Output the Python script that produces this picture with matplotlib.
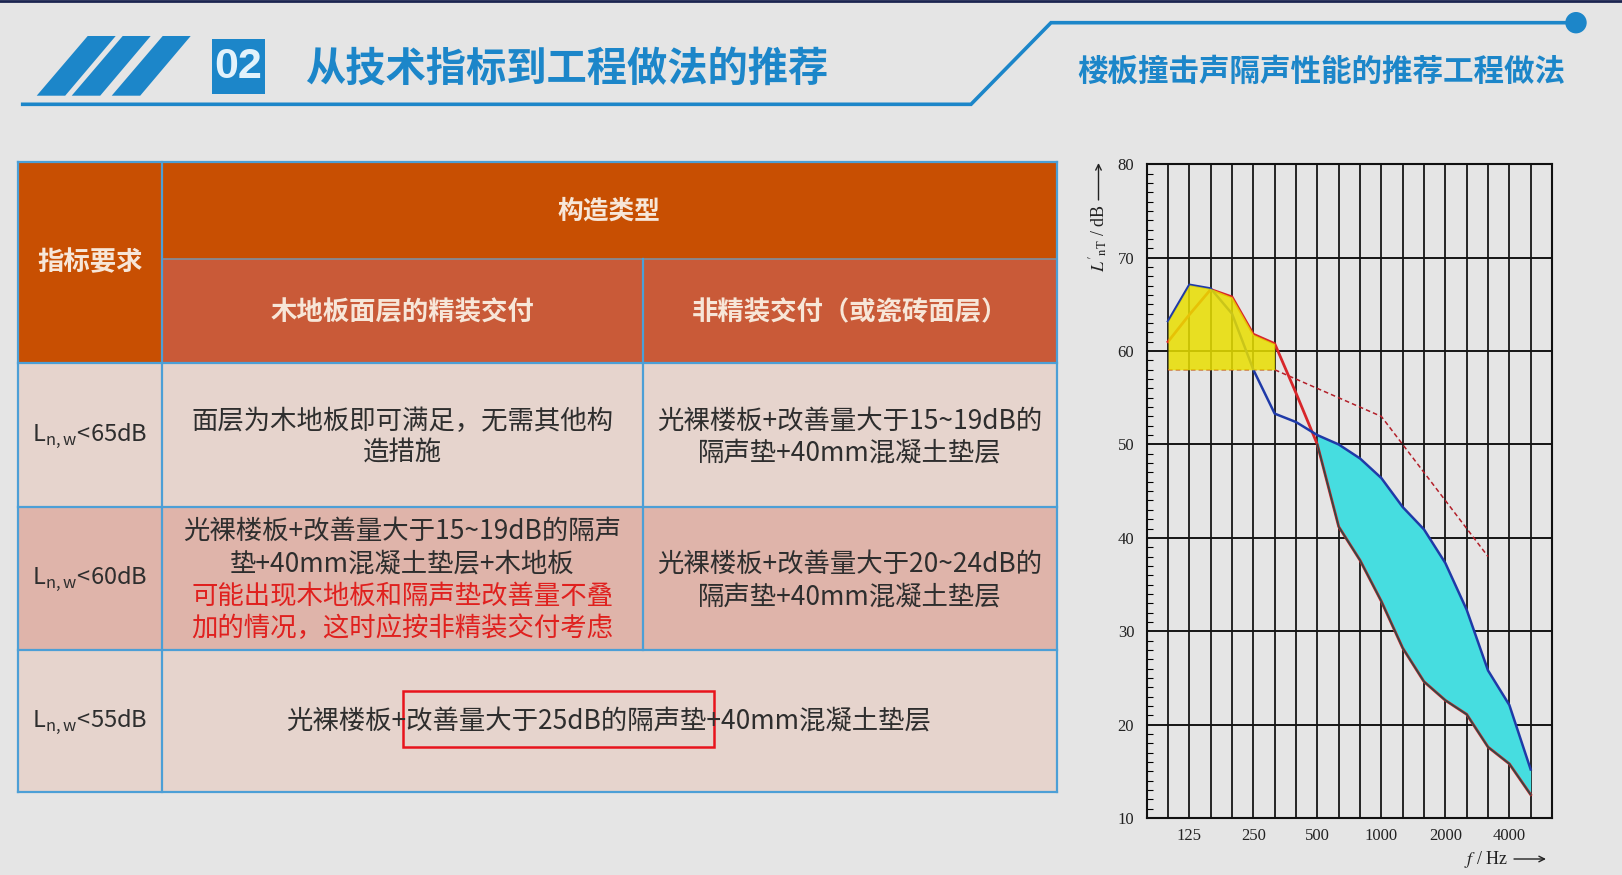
import numpy as np
import matplotlib
matplotlib.use('Agg')
import matplotlib.pyplot as plt
from matplotlib.patches import Rectangle, Polygon, Circle
from matplotlib.ticker import MultipleLocator

plt.rcParams['font.family'] = ['Noto Sans CJK SC', 'DejaVu Sans']

# ---- chart data (1/3 octave bands) ----
bands = ['80', '100', '125', '160', '200', '250', '315', '400', '500', '630',
         '800', '1000', '1250', '1600', '2000', '2500', '3150', '4000', '5000', '6300']
tick_labels = ['125', '250', '500', '1000', '2000', '4000']
curve_bands = bands[1:19]          # 100 .. 5000 Hz
ref_bands = bands[1:17]            # 100 .. 3150 Hz
curve_blue = [63.2, 67.1, 66.7, 64.0, 58.0, 53.3, 52.4, 51.0, 50.0, 48.5,
              46.4, 43.3, 40.9, 37.3, 32.3, 25.8, 22.1, 15.2]
curve_red = [61.0, 63.9, 66.6, 65.8, 61.8, 60.8, 55.5, 50.0, 41.2, 37.6,
             33.2, 28.2, 24.6, 22.6, 21.1, 17.6, 15.8, 12.5]
ref_curve = [58, 58, 58, 58, 58, 58, 57, 56, 55, 54, 53, 50, 47, 44, 41, 38]

# ---- table text ----
title = '从技术指标到工程做法的推荐'
subtitle = '楼板撞击声隔声性能的推荐工程做法'
head_req = '指标要求'
head_group = '构造类型'
head_cols = ['木地板面层的精装交付', '非精装交付（或瓷砖面层）']
req_limits = ['65', '60', '55']
row1 = [['面层为木地板即可满足，无需其他构', '造措施'],
        ['光裸楼板+改善量大于15~19dB的', '隔声垫+40mm混凝土垫层']]
row2 = [['光裸楼板+改善量大于15~19dB的隔声', '垫+40mm混凝土垫层+木地板'],
        ['可能出现木地板和隔声垫改善量不叠', '加的情况，这时应按非精装交付考虑'],
        ['光裸楼板+改善量大于20~24dB的', '隔声垫+40mm混凝土垫层']]
row3 = '光裸楼板+改善量大于25dB的隔声垫+40mm混凝土垫层'

W, H = 1622, 875
blue = '#1c86c9'
fig = plt.figure(figsize=(W / 100, H / 100), dpi=100)
fig.patch.set_facecolor('#e5e5e5')

ax = fig.add_axes([0, 0, 1, 1])
ax.set_xlim(0, W)
ax.set_ylim(H, 0)
ax.axis('off')

# header decoration
ax.plot([0, W], [1, 1], color='#1b2450', lw=2)
for x0 in [36.7, 71.7, 111.7]:
    ax.add_patch(Polygon([(x0, 95.7), (x0 + 28.5, 95.7), (x0 + 79, 36), (x0 + 51, 36)],
                         closed=True, color=blue, lw=0))
ax.add_patch(Rectangle((211.7, 39.3), 53.3, 55, color=blue, lw=0))
ax.text(238.3, 67.5, '02', family='Liberation Sans', weight='bold', size=31,
        color='#e2f2fb', ha='center', va='center')
ax.text(567, 69, title, size=29, weight='bold', color=blue, ha='center', va='center')
ax.plot([22.7, 971, 1051, 1576], [104.3, 104.3, 22.7, 22.7], color=blue, lw=2.6,
        solid_joinstyle='miter')
ax.add_patch(Circle((1576, 22.7), 10, color=blue))
ax.text(1321, 71.5, subtitle, size=22, weight='bold', color=blue, ha='center', va='center')

# table
cx = [17.6, 162.4, 643.4, 1056.5]
ty = [162.4, 258.6, 363, 506.9, 649.6, 792.4]
dark_or = '#c84f02'
mid_or = '#c95a38'
light = '#e6d4cd'
pink = '#dfb4aa'
ax.add_patch(Rectangle((cx[0], ty[0]), cx[1] - cx[0], ty[2] - ty[0], color=dark_or, lw=0))
ax.add_patch(Rectangle((cx[1], ty[0]), cx[3] - cx[1], ty[1] - ty[0], color=dark_or, lw=0))
ax.add_patch(Rectangle((cx[1], ty[1]), cx[3] - cx[1], ty[2] - ty[1], color=mid_or, lw=0))
for r, c in zip(range(2, 5), [light, pink, light]):
    ax.add_patch(Rectangle((cx[0], ty[r]), cx[3] - cx[0], ty[r + 1] - ty[r], color=c, lw=0))

bc = '#4c9fd6'
blw = 1.6
for y in [ty[0], ty[2], ty[3], ty[4], ty[5]]:
    ax.plot([cx[0], cx[3]], [y, y], color=bc, lw=blw)
ax.plot([cx[1], cx[3]], [ty[1], ty[1]], color='#7f8fa0', lw=1.2)
for x in [cx[0], cx[1], cx[3]]:
    ax.plot([x, x], [ty[0], ty[5]], color=bc, lw=blw)
ax.plot([cx[2], cx[2]], [ty[1], ty[4]], color=bc, lw=blw)

hc = '#f7e6d8'
ax.text(90, 263, head_req, size=19, weight='bold', color=hc, ha='center', va='center')
ax.text(609, 211, head_group, size=18.5, weight='bold', color=hc, ha='center', va='center')
ax.text(402.5, 313, head_cols[0], size=19, weight='bold', color=hc, ha='center', va='center')
ax.text(850, 313, head_cols[1], size=19, weight='bold', color=hc, ha='center', va='center')

tc = '#2e2e2e'
for lim, yc in zip(req_limits, [436, 578.5, 721.5]):
    ax.text(90, yc, r'L$_{\mathregular{n,w}}$<' + lim + 'dB', size=17, color=tc,
            ha='center', va='center')

fs = 19
lh = 32.3
for i, line in enumerate(row1[0]):
    ax.text(402.5, 421 + i * lh, line, size=fs, color=tc, ha='center', va='center')
for i, line in enumerate(row1[1]):
    ax.text(850, 421 + i * lh, line, size=fs, color=tc, ha='center', va='center')
for i, line in enumerate(row2[0] + row2[1]):
    ax.text(402.5, 531.5 + i * lh, line, size=fs, color=tc if i < 2 else '#e0201e',
            ha='center', va='center')
for i, line in enumerate(row2[2]):
    ax.text(850, 564.5 + i * lh, line, size=fs, color=tc, ha='center', va='center')
ax.text(609, 722, row3, size=fs, color=tc, ha='center', va='center')
ax.add_patch(Rectangle((403.4, 691), 310.3, 55.8, fill=False, ec='#e8141c', lw=1.8))

# ---- chart ----
axc = fig.add_axes([1146.7 / W, (H - 818) / H, 405.3 / W, 653.7 / H])
axc.set_facecolor('none')
xc = np.array([bands.index(b) for b in curve_bands])
xr = np.array([bands.index(b) for b in ref_bands])
cb = np.array(curve_blue)
cr = np.array(curve_red)

axc.vlines(range(1, len(bands) - 1), 10, 80, color='#151515', lw=1.3, zorder=1)
axc.hlines(range(20, 80, 10), 0, len(bands) - 1, color='#151515', lw=1.4, zorder=1)

axc.fill_between(xc[7:], cr[7:], cb[7:], color='#46dde0', lw=0, zorder=2)
axc.plot(xr, ref_curve, color='#b3202a', lw=1.1, ls=(0, (3, 2)), zorder=3)
axc.plot(xc, cr, color='#d8262a', lw=2.0, zorder=3)
axc.plot(xc[7:], cr[7:], color='#2d4a48', lw=1.2, zorder=3.1)
axc.plot(xc, cb, color='#1f3aa8', lw=1.8, zorder=3.2)
axc.fill_between(xc[:6], ref_curve[:6], np.maximum(cb[:6], cr[:6]),
                 color='#e9df00', alpha=0.85, lw=0, zorder=4)

axc.set_xlim(0, len(bands) - 1)
axc.set_ylim(10, 80)
axc.set_xticks([bands.index(t) for t in tick_labels])
axc.set_xticklabels(tick_labels)
axc.set_yticks(range(10, 81, 10))
axc.yaxis.set_minor_locator(MultipleLocator(1))
axc.tick_params(axis='x', length=0, pad=7)
axc.tick_params(axis='y', which='major', direction='in', length=0, pad=9)
axc.tick_params(axis='y', which='minor', direction='in', length=4, width=0.8)
for lab in axc.get_xticklabels() + axc.get_yticklabels():
    lab.set_family('Liberation Serif')
    lab.set_fontsize(12)
    lab.set_color('#222222')
for s in axc.spines.values():
    s.set_linewidth(1.5)
    s.set_color('#111111')

# axis labels with long arrows
ax.text(1098.5, 238, r"$L'_{\mathrm{nT}}$ / dB", rotation=90, family='Liberation Serif',
        math_fontfamily='stix', size=13, ha='center', va='center', color='#222222')
ax.annotate('', xy=(1098.5, 163), xytext=(1098.5, 200),
            arrowprops=dict(arrowstyle='->', color='#222222', lw=1.0,
                            shrinkA=0, shrinkB=0))
ax.text(1486, 859, r"$f$ / Hz", family='Liberation Serif', math_fontfamily='stix',
        size=13, ha='center', va='center', color='#222222')
ax.annotate('', xy=(1546, 859), xytext=(1514, 859),
            arrowprops=dict(arrowstyle='->', color='#222222', lw=1.0,
                            shrinkA=0, shrinkB=0))

fig.savefig('out.png', dpi=100, facecolor=fig.get_facecolor())
